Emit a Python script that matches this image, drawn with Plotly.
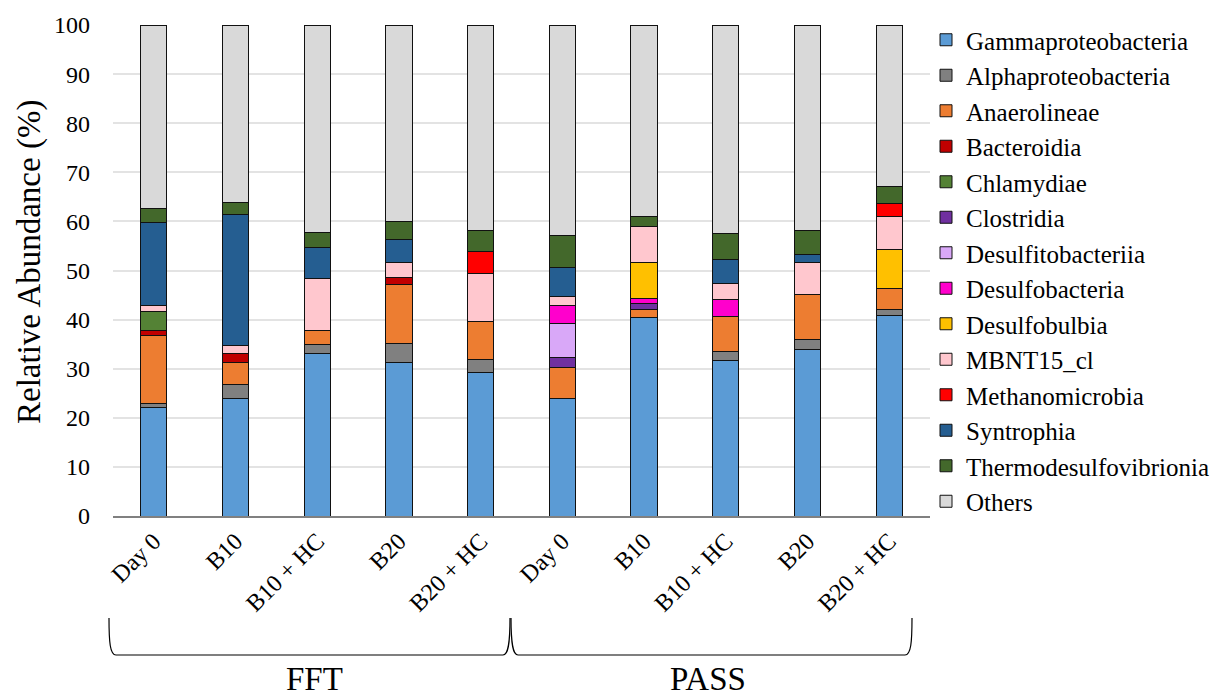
import plotly.graph_objects as go

samples = ["Day 0", "B10", "B10 + HC", "B20", "B20 + HC",
           "Day 0", "B10", "B10 + HC", "B20", "B20 + HC"]
groups = ["FFT", "PASS"]

N = None
Gammaproteobacteria = [22.0, 24.0, 33.1, 31.3, 29.3, 24.0, 40.5, 31.6, 33.9, 40.8]
Alphaproteobacteria = [0.9, 2.8, 1.9, 3.8, 2.6, N, N, 1.9, 2.1, 1.2]
Anaerolineae = [13.8, 4.5, 2.8, 12.1, 7.7, 6.3, 1.5, 7.2, 9.1, 4.4]
Bacteroidia = [1.1, 1.8, N, 1.4, N, N, N, N, N, N]
Chlamydiae = [3.9, N, N, N, N, N, N, N, N, N]
Clostridia = [N, N, N, N, N, 1.9, 1.2, N, N, N]
Desulfitobacteriia = [N, N, N, N, N, 7.0, N, N, N, N]
Desulfobacteria = [N, N, N, N, N, 3.6, 1.1, 3.4, N, N]
Desulfobulbia = [N, N, N, N, N, N, 7.4, N, N, 7.9]
MBNT15_cl = [1.2, 1.6, 10.6, 3.1, 9.7, 2.0, 7.2, 3.3, 6.6, 6.7]
Methanomicrobia = [N, N, N, N, 4.6, N, N, N, N, 2.7]
Syntrophia = [16.8, 26.7, 6.2, 4.7, N, 5.8, N, 4.9, 1.6, N]
Thermodesulfovibrionia = [2.9, 2.5, 3.1, 3.5, 4.3, 6.6, 2.2, 5.3, 4.8, 3.4]
Others = [37.4, 36.1, 42.3, 40.1, 41.8, 42.8, 38.9, 42.4, 41.9, 32.9]

series = [
    ("Gammaproteobacteria", Gammaproteobacteria, "#5B9BD5"),
    ("Alphaproteobacteria", Alphaproteobacteria, "#808080"),
    ("Anaerolineae", Anaerolineae, "#ED7D31"),
    ("Bacteroidia", Bacteroidia, "#C00000"),
    ("Chlamydiae", Chlamydiae, "#548235"),
    ("Clostridia", Clostridia, "#7030A0"),
    ("Desulfitobacteriia", Desulfitobacteriia, "#D9A8F8"),
    ("Desulfobacteria", Desulfobacteria, "#FF00CC"),
    ("Desulfobulbia", Desulfobulbia, "#FFC000"),
    ("MBNT15_cl", MBNT15_cl, "#FFC7CE"),
    ("Methanomicrobia", Methanomicrobia, "#FF0000"),
    ("Syntrophia", Syntrophia, "#255E91"),
    ("Thermodesulfovibrionia", Thermodesulfovibrionia, "#43682B"),
    ("Others", Others, "#D9D9D9"),
]

FONT = "Liberation Serif"
W, H = 1222, 700
L, R, T, B = 113, 292, 25, 184
PW, PH = W - L - R, H - T - B

xs = list(range(len(samples)))
fig = go.Figure()
for name, vals, col in series:
    fig.add_trace(go.Bar(
        x=xs, y=vals, name=name, width=0.32,
        marker=dict(color=col, line=dict(color="#111111", width=1)),
        legendgroup=name,
    ))


def px(x, y):
    return (x - L) / PW, (H - B - y) / PH


def path(points_cmds):
    s = ""
    for cmd, pts in points_cmds:
        s += cmd
        s += " ".join("%.5f,%.5f" % px(*p) for p in pts) + " "
    return s.strip()


left = path([("M", [(109, 618)]), ("C", [(109, 642), (110, 655), (116, 655)]),
             ("L", [(503, 655)]), ("C", [(508, 655), (510, 645), (510, 618)])])
right = path([("M", [(511, 618)]), ("C", [(511, 645), (513, 655), (518, 655)]),
              ("L", [(905, 655)]), ("C", [(911, 655), (912, 642), (912, 618)])])

shapes = [dict(type="path", xref="paper", yref="paper", path=p,
               line=dict(color="#000000", width=1.2)) for p in (left, right)]

annotations = []
for g, cx in zip(groups, (314, 708)):
    ax, ay = px(cx, 699)
    annotations.append(dict(text=g, x=ax, y=ay, xref="paper", yref="paper",
                            showarrow=False, xanchor="center", yanchor="bottom",
                            font=dict(family=FONT, size=33, color="#000")))
tx, ty = px(29, 262)
annotations.append(dict(text="Relative Abundance (%)", x=tx, y=ty, xref="paper",
                        yref="paper", showarrow=False, textangle=-90,
                        xanchor="center", yanchor="middle",
                        font=dict(family=FONT, size=33, color="#000")))

lx, ly = px(926, 17)
fig.update_layout(
    width=W, height=H,
    margin=dict(l=L, r=R, t=T, b=B, autoexpand=False),
    paper_bgcolor="white", plot_bgcolor="white",
    barmode="stack",
    font=dict(family=FONT, color="#000"),
    showlegend=True,
    legend=dict(x=lx, y=ly, xanchor="left", yanchor="top",
                font=dict(family=FONT, size=25, color="#000"),
                traceorder="grouped", tracegroupgap=0, itemwidth=30,
                maxheight=690, bgcolor="rgba(0,0,0,0)"),
    shapes=shapes,
    annotations=annotations,
    xaxis=dict(range=[-0.5, 9.5], tickmode="array", tickvals=xs, ticktext=samples,
               tickangle=-45, showline=True, linecolor="#808080", linewidth=1.5,
               showgrid=False, zeroline=False, ticks="",
               tickfont=dict(family=FONT, size=24, color="#000"),
               ticklabelstandoff=0),
    yaxis=dict(range=[0, 100], dtick=10, showgrid=True, gridcolor="#E3E3E3",
               gridwidth=1.5, zeroline=False, showline=False, ticks="",
               tickfont=dict(family=FONT, size=24, color="#000"),
               ticklabelstandoff=22),
)

fig.write_html("out.html")
